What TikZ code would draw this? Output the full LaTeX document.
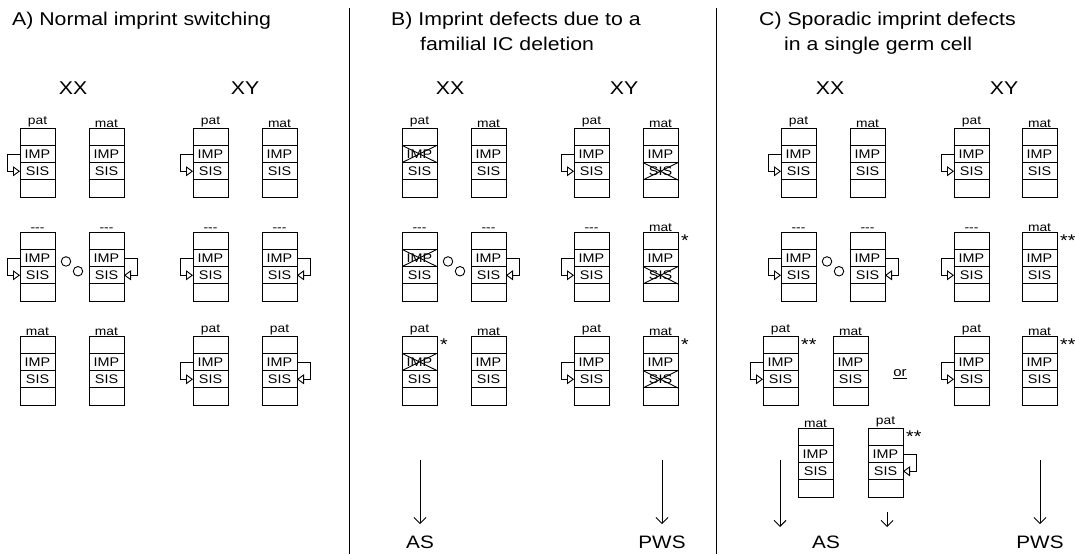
\documentclass[tikz,border=0pt]{standalone}
\usepackage{fontspec}
\setmainfont[FakeStretch=1.15]{Liberation Sans}
\usetikzlibrary{positioning,arrows.meta}
\tikzset{
  cell/.style={draw, line width=1pt, minimum width=35pt, minimum height=17.3pt, inner sep=0pt, outer sep=0pt, font=\fontsize{12.5}{13}\selectfont},
  tag/.style={inner sep=0.5pt, font=\fontsize{12}{13}\selectfont},
  title/.style={anchor=base west, inner sep=0pt, font=\fontsize{18.5}{22}\selectfont},
  geno/.style={font=\fontsize{18.5}{20}\selectfont},
  result/.style={font=\fontsize{18}{20}\selectfont},
  starlab/.style={anchor=north west, inner sep=0pt, font=\fontsize{17}{20}\selectfont},
  orlab/.style={inner sep=0pt, font=\fontsize{13}{14}\selectfont},
  feedback/.style={line width=0.9pt, -{Triangle[open,length=7pt,width=10pt]}},
  xline/.style={line width=0.9pt},
  ring/.style={circle, draw, line width=0.9pt, minimum size=9.5pt, inner sep=0pt},
  down/.style={line width=0.9pt, -{Straight Barb[length=6pt,width=12pt]}},
  divider/.style={line width=0.9pt}
}
% chromosome: name, left x, top y, label
\newcommand{\chrom}[4]{%
  \node[cell, anchor=north west] (#1-t) at (#2,#3) {};
  \node[cell, below=0pt of #1-t] (#1-i) {IMP};
  \node[cell, below=0pt of #1-i] (#1-s) {SIS};
  \node[cell, below=0pt of #1-s] (#1-b) {};
  \node[tag, above=0pt of #1-t] (#1-l) {#4};
}
\newcommand{\loopL}[1]{\draw[feedback] (#1-i.west) -- ++(-13,0) |- (#1-s.west);}
\newcommand{\loopR}[1]{\draw[feedback] (#1-i.east) -- ++(13,0) |- (#1-s.east);}
\newcommand{\cross}[1]{\draw[xline] (#1.north west) -- (#1.south east) (#1.north east) -- (#1.south west);}

\begin{document}
\begin{tikzpicture}[x=1pt,y=-1pt]
  \useasboundingbox (0,0) rectangle (1075,554);
  % titles and dividers
  \node[title] (atitle) at (12,25) {A) Normal imprint switching};
  \node[title] (btitle) at (391,25) {B) Imprint defects due to a};
  \node[title] (btitle2) at (420,50) {familial IC deletion};
  \node[title] (ctitle) at (759,25) {C) Sporadic imprint defects};
  \node[title] (ctitle2) at (784,50) {in a single germ cell};
  \draw[divider] (349,8) -- (349,554);
  \draw[divider] (716,8) -- (716,554);

  % A) normal
  \node[geno] (axx) at (73,88) {XX};
  \node[geno] (axy) at (245,88) {XY};
  \chrom{axx1l}{20}{128}{pat} \chrom{axx1r}{89}{128}{mat} \loopL{axx1l}
  \chrom{axx2l}{20}{232}{{-}{-}{-}} \chrom{axx2r}{89}{232}{{-}{-}{-}} \loopL{axx2l} \loopR{axx2r}
  \node[ring] (axx2-o1) at ([shift={(11,3.5)}]axx2l-i.east) {};
  \node[ring] (axx2-o2) at ([shift={(-11,-4)}]axx2r-s.west) {};
  \chrom{axx3l}{20}{336}{mat} \chrom{axx3r}{89}{336}{mat}
  \chrom{axy1l}{193}{128}{pat} \chrom{axy1r}{262}{128}{mat} \loopL{axy1l}
  \chrom{axy2l}{193}{232}{{-}{-}{-}} \chrom{axy2r}{262}{232}{{-}{-}{-}} \loopL{axy2l} \loopR{axy2r}
  \chrom{axy3l}{193}{336}{pat} \chrom{axy3r}{262}{336}{pat} \loopL{axy3l} \loopR{axy3r}

  % B) familial IC deletion
  \node[geno] (bxx) at (450,88) {XX};
  \node[geno] (bxy) at (624,88) {XY};
  \chrom{bxx1l}{402}{128}{pat} \chrom{bxx1r}{471}{128}{mat} \cross{bxx1l-i}
  \chrom{bxx2l}{402}{232}{{-}{-}{-}} \chrom{bxx2r}{471}{232}{{-}{-}{-}} \cross{bxx2l-i} \loopR{bxx2r}
  \node[ring] (bxx2-o1) at ([shift={(11,3.5)}]bxx2l-i.east) {};
  \node[ring] (bxx2-o2) at ([shift={(-11,-4)}]bxx2r-s.west) {};
  \chrom{bxx3l}{402}{336}{pat} \chrom{bxx3r}{471}{336}{mat} \cross{bxx3l-i}
  \node[starlab] (bxx3l-st) at ([shift={(3,3)}]bxx3l-t.north east) {*};
  \chrom{bxy1l}{574}{128}{pat} \chrom{bxy1r}{643}{128}{mat} \loopL{bxy1l} \cross{bxy1r-s}
  \chrom{bxy2l}{574}{232}{{-}{-}{-}} \chrom{bxy2r}{643}{232}{mat} \loopL{bxy2l} \cross{bxy2r-s}
  \node[starlab] (bxy2r-st) at ([shift={(3,3)}]bxy2r-t.north east) {*};
  \chrom{bxy3l}{574}{336}{pat} \chrom{bxy3r}{643}{336}{mat} \loopL{bxy3l} \cross{bxy3r-s}
  \node[starlab] (bxy3r-st) at ([shift={(3,3)}]bxy3r-t.north east) {*};
  \coordinate (bas-top) at (420,460);
  \coordinate (bpws-top) at (662,460);
  \node[result] (bas) at (420,542) {AS};
  \node[result] (bpws) at (662,542) {PWS};
  \draw[down, shorten >=8pt] (bas-top) -- (bas);
  \draw[down, shorten >=8pt] (bpws-top) -- (bpws);

  % C) sporadic defects
  \node[geno] (cxx) at (830,88) {XX};
  \node[geno] (cxy) at (1004,88) {XY};
  \chrom{cxx1l}{781}{128}{pat} \chrom{cxx1r}{850}{128}{mat} \loopL{cxx1l}
  \chrom{cxx2l}{781}{232}{{-}{-}{-}} \chrom{cxx2r}{850}{232}{{-}{-}{-}} \loopL{cxx2l} \loopR{cxx2r}
  \node[ring] (cxx2-o1) at ([shift={(11,3.5)}]cxx2l-i.east) {};
  \node[ring] (cxx2-o2) at ([shift={(-11,-4)}]cxx2r-s.west) {};
  \chrom{cxx3l}{763}{336}{pat} \chrom{cxx3r}{833}{336}{mat} \loopL{cxx3l}
  \node[starlab] (cxx3l-st) at ([shift={(3,3)}]cxx3l-t.north east) {**};
  \node[orlab] (cor) at (900,374) {\underline{or}};
  \chrom{cxx4l}{798}{428}{mat} \chrom{cxx4r}{868}{428}{pat} \loopR{cxx4r}
  \node[starlab] (cxx4r-st) at ([shift={(3,3)}]cxx4r-t.north east) {**};
  \chrom{cxy1l}{954}{128}{pat} \chrom{cxy1r}{1022}{128}{mat} \loopL{cxy1l}
  \chrom{cxy2l}{954}{232}{{-}{-}{-}} \chrom{cxy2r}{1022}{232}{mat} \loopL{cxy2l}
  \node[starlab] (cxy2r-st) at ([shift={(3,3)}]cxy2r-t.north east) {**};
  \chrom{cxy3l}{954}{336}{pat} \chrom{cxy3r}{1022}{336}{mat} \loopL{cxy3l}
  \node[starlab] (cxy3r-st) at ([shift={(3,3)}]cxy3r-t.north east) {**};
  \coordinate (cas-top) at (780,460);
  \coordinate (cas-end) at (780,527);
  \coordinate (cpat-top) at (887,512);
  \coordinate (cpat-end) at (887,527);
  \coordinate (cpws-top) at (1040,460);
  \node[result] (cas) at (826,542) {AS};
  \node[result] (cpws) at (1040,542) {PWS};
  \draw[down] (cas-top) -- (cas-end);
  \draw[down] (cpat-top) -- (cpat-end);
  \draw[down, shorten >=8pt] (cpws-top) -- (cpws);
\end{tikzpicture}
\end{document}
